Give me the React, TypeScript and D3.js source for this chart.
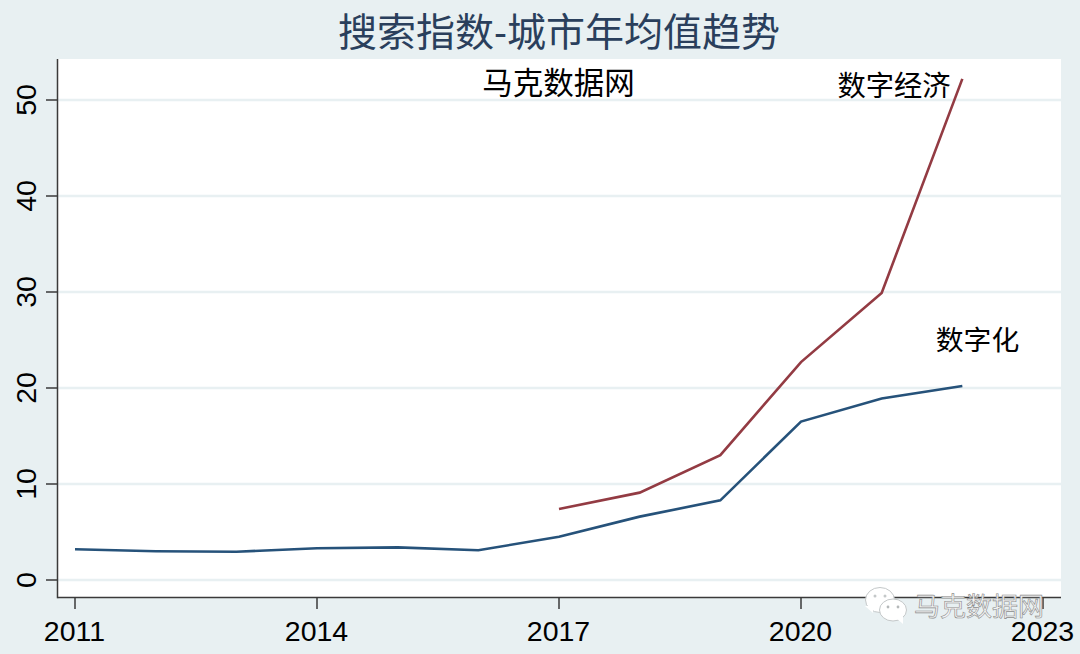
import React from "react";
import * as d3 from "d3";

const title = "搜索指数-城市年均值趋势";
const years = [2011, 2012, 2013, 2014, 2015, 2016, 2017, 2018, 2019, 2020, 2021, 2022];
const digitization = [3.2, 3.0, 2.95, 3.3, 3.4, 3.1, 4.5, 6.6, 8.3, 16.5, 18.9, 20.2];
const economyYears = [2017, 2018, 2019, 2020, 2021, 2022];
const digitalEconomy = [7.4, 9.1, 13.0, 22.7, 29.9, 52.2];
const xTicks = [2011, 2014, 2017, 2020, 2023];
const yTicks = [0, 10, 20, 30, 40, 50];

const W = 1080, H = 654;
const FONT = "'Liberation Sans', 'Noto Sans CJK SC', Arial, sans-serif";
const plot = { l: 57.5, r: 1061, t: 59, b: 597.5 };
const x = d3.scaleLinear().domain([2011, 2023]).range([75, 1043]);
const y = d3.scaleLinear().domain([0, 50]).range([580, 100]);

const lineD = (xs: number[], ys: number[]) =>
  d3.line<number>().x((d) => x(d)).y((_, i) => y(ys[i]))(xs) as string;

function WeChatMark() {
  const bubble = (cx: number, cy: number, rx: number, ry: number, tx: number, ty: number) => (
    <g>
      <ellipse cx={cx} cy={cy} rx={rx} ry={ry} fill="#fff" stroke="#c4c8c9" strokeWidth={1} />
      <path d={`M${cx + tx - 5},${cy + ty - 4} L${cx + tx + 3},${cy + ty + 3} L${cx + tx + 3},${cy + ty - 4} Z`} fill="#fff" />
    </g>
  );
  return (
    <g>
      {bubble(880, 600, 14.5, 12.5, -10, 10)}
      <circle cx={875} cy={596} r={1.5} fill="#c4c8c9" />
      <circle cx={885} cy={596} r={1.5} fill="#c4c8c9" />
      {bubble(893, 610, 13.5, 11, 7, 11)}
      <circle cx={888} cy={607} r={1.4} fill="#b4b8b9" />
      <circle cx={898} cy={607} r={1.4} fill="#b4b8b9" />
    </g>
  );
}

export default function App() {
  return (
    <svg
      width={W}
      height={H}
      viewBox={`0 0 ${W} ${H}`}
      style={{ position: "absolute", left: 0, top: 0, display: "block" }}
      fontFamily={FONT}
    >
      <rect width={W} height={H} fill="#e8f0f2" />
      <rect x={plot.l} y={plot.t} width={plot.r - plot.l} height={plot.b - plot.t} fill="#fff" />
      {yTicks.map((t) => (
        <line key={t} x1={plot.l} x2={plot.r} y1={y(t)} y2={y(t)} stroke="#e8f0f2" strokeWidth={2.4} />
      ))}
      <line x1={plot.l} x2={plot.l} y1={plot.t} y2={plot.b + 0.75} stroke="#3a3a3a" strokeWidth={1.5} />
      <line x1={plot.l} x2={plot.r} y1={plot.b} y2={plot.b} stroke="#3a3a3a" strokeWidth={1.5} />
      {yTicks.map((t) => (
        <g key={t}>
          <line x1={46} x2={plot.l} y1={y(t)} y2={y(t)} stroke="#3a3a3a" strokeWidth={1.5} />
          <text
            transform={`translate(36,${y(t)}) rotate(-90)`}
            textAnchor="middle"
            fontSize={28.5}
            fill="#000"
          >
            {t}
          </text>
        </g>
      ))}
      {xTicks.map((t) => (
        <g key={t}>
          <line x1={x(t)} x2={x(t)} y1={plot.b} y2={609} stroke="#3a3a3a" strokeWidth={1.5} />
          <text x={x(t)-0.5} y={641} textAnchor="middle" fontSize={28.5} fill="#000">
            {t}
          </text>
        </g>
      ))}
      <path d={lineD(years, digitization)} fill="none" stroke="#26527a" strokeWidth={2.6} />
      <path d={lineD(economyYears, digitalEconomy)} fill="none" stroke="#933b43" strokeWidth={2.6} />
      <text x={559} y={46} textAnchor="middle" fontSize={39} fill="#2a3f5c">
        {title}
      </text>
      <text x={558.5} y={94} textAnchor="middle" fontSize={30.5} fill="#000">马克数据网</text>
      <text x={894} y={96} textAnchor="middle" fontSize={28.3} fill="#000">数字经济</text>
      <text x={977.5} y={350} textAnchor="middle" fontSize={27.8} fill="#000">数字化</text>
      <WeChatMark />
      <text x={979} y={616} textAnchor="middle" fontSize={26} fill="#f4f4f4" stroke="#8a8a8a" strokeWidth={0.6}>
        马克数据网
      </text>
    </svg>
  );
}
